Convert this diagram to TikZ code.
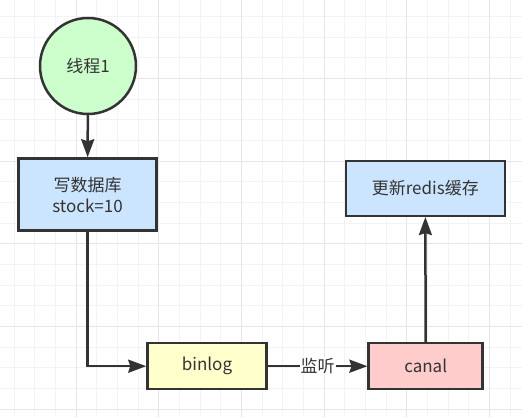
\documentclass[tikz,border=0pt]{standalone}
\usepackage{fontspec}
\setmainfont{Noto Sans CJK SC}
\usetikzlibrary{arrows.meta}
\definecolor{ln}{HTML}{333333}
\definecolor{gminor}{HTML}{F3F3F3}
\definecolor{gmajor}{HTML}{E6E6E6}
\definecolor{cgreen}{HTML}{CCFFCC}
\definecolor{cblue}{HTML}{CCE5FF}
\definecolor{cyellow}{HTML}{FFFFCC}
\definecolor{cred}{HTML}{FFCCCC}
\begin{document}
\begin{tikzpicture}[x=1pt,y=-1pt,
  every node/.style={font=\fontsize{17}{22}\selectfont, text=ln},
  boxst/.style={draw=ln, line width=2.5pt, rectangle, inner sep=0pt, align=center},
  circst/.style={draw=ln, line width=2.5pt, circle, fill=cgreen, inner sep=0pt, minimum size=96pt},
  conn/.style={draw=ln, line width=2.5pt, -{Stealth[length=18pt,width=13pt,inset=2pt]}},
  lbl/.style={fill=white, inner sep=1pt}]
\useasboundingbox (0,0) rectangle (522,417);
\fill[white] (0,0) rectangle (522,417);
% grid
\foreach \i in {0,...,25} {
  \pgfmathsetmacro{\xx}{14+20.667*\i}
  \draw[gminor, line width=1pt] (\xx,0) -- (\xx,417);
}
\foreach \i in {0,...,20} {
  \pgfmathsetmacro{\yy}{16.4+20.667*\i}
  \draw[gminor, line width=1pt] (0,\yy) -- (522,\yy);
}
\foreach \i in {0,...,5} {
  \pgfmathsetmacro{\xx}{76+82.667*\i}
  \draw[gmajor, line width=1pt] (\xx,0) -- (\xx,417);
}
\foreach \i in {1,...,5} {
  \pgfmathsetmacro{\yy}{-4.3+82.667*\i}
  \draw[gmajor, line width=1pt] (0,\yy) -- (522,\yy);
}
% nodes
\node[circst] (t1) at (88,66) {线程1};
\node[boxst, fill=cblue, minimum width=138pt, minimum height=72pt] (db) at (87.5,194.5) {写数据库\\[-1pt]stock=10};
\node[boxst, fill=cblue, minimum width=159pt, minimum height=55pt] (redis) at (425.3,188.3) {更新redis缓存};
\node[boxst, fill=cyellow, minimum width=119pt, minimum height=46pt] (bin) at (207,366.2) {binlog};
\node[boxst, fill=cred, minimum width=114pt, minimum height=46pt] (canal) at (425.7,366.2) {canal};
% connectors
\draw[conn] (t1) -- (db);
\draw[conn] (db.south) |- (bin.west);
\draw[conn] (bin) -- node[lbl, pos=0.5] {监听} (canal);
\draw[conn] (canal) -- (redis);
\end{tikzpicture}
\end{document}
